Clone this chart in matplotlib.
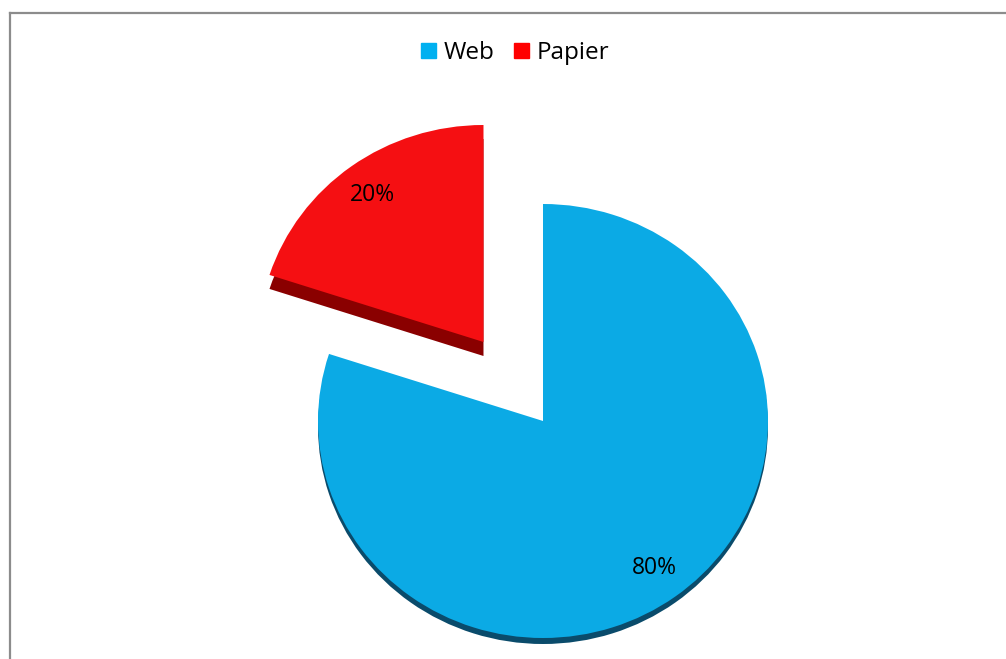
import matplotlib
matplotlib.use('Agg')
from matplotlib import pyplot as plt
from matplotlib.lines import Line2D

plt.rcParams['font.family'] = ['Open Sans', 'DejaVu Sans']

labels = ['Web', 'Papier']
values = [80, 20]
colors = ['#0BAAE5', '#F50F12']
legend_colors = ['#00B0F0', '#FF0000']
side_colors = ['#0A4B6B', '#8A0000']
explode = [0, 0.45]

W, H = 1006, 659
sx, sy = 225.0, 217.0          # pie radius in px (x / y), a bit flattened
cx, cy = 543, 421              # pie centre in px (from top)

fig = plt.figure(figsize=(W / 100, H / 100), dpi=100)
ax = fig.add_axes([0, 0, 1, 1])

centre = (cx / sx, (H - cy) / sy)

# side of the 3d pie: one dark copy per slice, shifted down
for i, depth in enumerate([6, 14]):
    cols = ['none', 'none']
    cols[i] = side_colors[i]
    ax.pie(values, colors=cols, explode=explode, startangle=90, counterclock=False,
           center=(centre[0], centre[1] - depth / sy), radius=1,
           wedgeprops=dict(linewidth=0), frame=True)

wedges, texts, autotexts = ax.pie(values, colors=colors, explode=explode, startangle=90,
                                  counterclock=False, center=centre, radius=1,
                                  autopct='%1.0f%%', pctdistance=0.84,
                                  wedgeprops=dict(linewidth=0),
                                  textprops=dict(fontsize=16.5, color='black'), frame=True)
ax.set_aspect('auto')
ax.set_xlim(0, W / sx)
ax.set_ylim(0, H / sy)
ax.axis('off')

handles = [plt.Rectangle((0, 0), 1, 1, color=c) for c in legend_colors]
fig.legend(handles, labels, loc='center', bbox_to_anchor=(0.512, 1 - 53 / H), ncol=2,
           frameon=False, fontsize=17.5, handlelength=0.62, handleheight=0.62,
           handletextpad=0.3, columnspacing=0.8)

# chart border (runs off the right and bottom edge)
bx, by = 9.5 / W, 1 - 12.5 / H
fig.add_artist(Line2D([bx, bx], [-0.1, by], color='#8C8C8C', lw=1.6, transform=fig.transFigure))
fig.add_artist(Line2D([bx, 1.1], [by, by], color='#8C8C8C', lw=1.6, transform=fig.transFigure))

plt.savefig('out.png', dpi=100)
